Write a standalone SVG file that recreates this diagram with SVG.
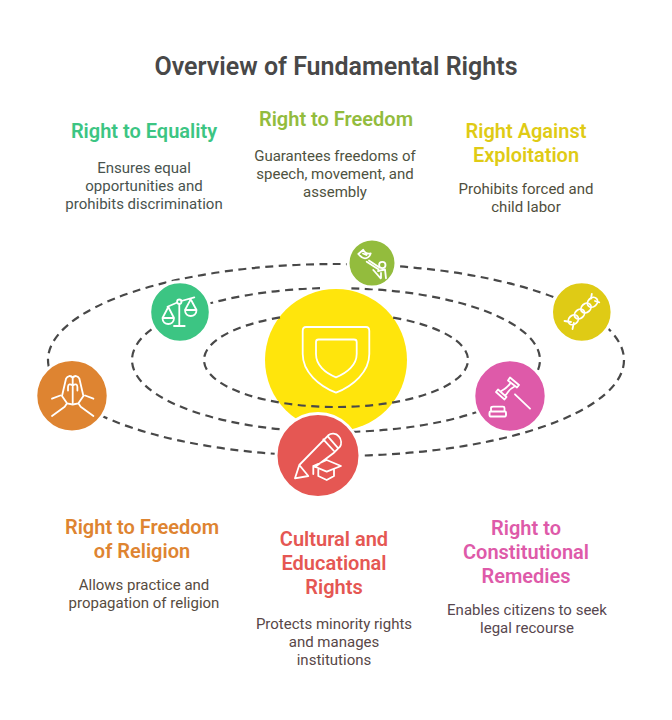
<svg xmlns="http://www.w3.org/2000/svg" width="672" height="720" viewBox="0 0 672 720">
<style>
text{font-family:Roboto,"Liberation Sans",sans-serif;text-anchor:middle}
.t{font-size:25px;font-weight:600;fill:#484848}
.h{font-size:20px;font-weight:600}
.b{font-size:15px}
.c{fill:none;stroke:#484848;stroke-width:2.2;stroke-dasharray:8 5.5}
.n{stroke:#fff;stroke-width:3}
.i{fill:none;stroke:#fff;stroke-width:1.8;stroke-linecap:round;stroke-linejoin:round}
</style>
<rect width="672" height="720" fill="#fff"/>
<text class="t" x="336" y="75">Overview of Fundamental Rights</text>
<g id="center"><circle cx="336" cy="360" r="71" fill="#FFE50C"/>
<path class="i" d="M306 327H366Q369.300 327 369.300 331V354C369.300 372 353 386 336 392.700C319 386 302.700 372 302.700 354V331Q302.700 327 306 327Z"/>
<path class="i" d="M318.500 339.500H354Q356.700 339.500 356.700 342V354C356.700 365 347 373 336 377.300C325 373 316 365 316 354V342Q316 339.500 318.500 339.500Z"/></g>
<g id="connectors">
<ellipse class="c" cx="336" cy="360" rx="288" ry="96"/>
<path class="c" d="M320 288.220A204 72 0 0 0 132 360A204 72 0 0 0 540 360A204 72 0 0 0 350 288.250"/>
<path class="c" d="M280 317.440A132 47 0 0 0 204 360A132 47 0 0 0 468 360A132 47 0 0 0 393 317.600"/>
</g>
<g id="equality"><circle class="n" cx="180" cy="312" r="30.300" fill="#3CC583"/>
<path class="i" d="M179.300 304V326M174 326H184.700M167.500 306.800L177.300 302.500M181.300 301L194.300 297.300M168.300 307L162.500 318H174ZM162.500 318C162.500 326 174 326 174 318M190.700 299.300L185 310H196.500ZM185 310C185 318 196.500 318 196.500 310"/><circle class="i" cx="179.300" cy="301.700" r="2.200"/></g>
<g id="freedom"><circle class="n" cx="372" cy="263" r="24" fill="#93BC3D"/>
<path class="i" d="M358.300 254L363.300 249.800C365 253 368 254 370.700 253.300C370 256 367.500 258.300 365 258.300C362 258.300 360 256 358.300 254ZM363 253.500L366.500 255M366.700 261.700L378.300 269.300M369 260.500L379.500 267.500M373.300 270L380.700 278.300M378 271L385 269.500M385 269.500L386 278.300M381 273V278"/><circle class="i" cx="382.300" cy="265" r="3.200"/></g>
<g id="exploitation"><circle class="n" cx="581.800" cy="312" r="30.300" fill="#DFCB15"/>
<g class="i"><ellipse cx="573.300" cy="319.800" rx="5.500" ry="4.400" transform="rotate(-42 573.300 319.800)"/><ellipse cx="579.500" cy="314" rx="5.500" ry="4.400" transform="rotate(-42 579.500 314)"/><ellipse cx="586" cy="308" rx="5.500" ry="4.400" transform="rotate(-42 586 308)"/><ellipse cx="592.500" cy="302.300" rx="5.500" ry="4.400" transform="rotate(-42 592.500 302.300)"/></g>
<path class="i" d="M564.500 321L571 322M572.500 329L573.800 323M591.800 294L591 298.500M599.300 302.300L595 301"/></g>
<g id="religion"><circle class="n" cx="72" cy="395.800" r="36.200" fill="#DE8431"/>
<path class="i" d="M72.700 378C71 375 67.500 375.500 66 378.700L62 396L67 403.300L72.700 404.500L78.400 403.300L83.400 396L79.400 378.700C78 375.500 74.400 375 72.700 378ZM72.700 378V402.500M68 390.500V387C68 384 70 383.500 72.700 385.500C75.400 383.500 77.400 384 77.400 387V390.500M52 398.700L60.300 395.500M93.400 398.700L85.100 395.500M67 403.300L64.700 406.700L52 416M78.400 403.300L80.700 406.700L93.400 416"/></g>
<g id="remedies"><circle class="n" cx="510" cy="396" r="36.200" fill="#DE5AA9"/>
<path class="i" d="M496 392L498 389.500L506.500 397L504.500 399.500ZM508 380.500L510 377.500L519 385L517 387.500ZM501.300 391C505 389 509 386 510.700 382.500M505.500 395.500C508 391.500 511 388 514.500 386.500M515 394.300L530 408.700M491 408C491 407 492 406.700 493 406.700H503C504 406.700 504.500 407 504.500 408V411.500H491ZM490.500 411.500H505C506.500 411.500 506.500 416.500 505 416.500H490.500C489 416.500 489 411.500 490.500 411.500Z"/></g>
<g id="cultural"><circle class="n" cx="318" cy="455.500" r="42" fill="#E55753"/>
<path class="i" d="M295 478.300L299.300 465L308.300 476ZM299.300 465L328.300 435.300C331 433 336 433 338.800 436.300C341.800 439.500 341.500 444 340 446.700L333.300 453.300L315 467M323.300 439.300L334 451M328 436.700L338.300 448.300M326.700 460L341 466L326.700 471.700L313.300 466ZM313.300 466V474M318.300 469.300V476L326.700 480L334 476V469.300"/></g>
<g id="t-equality"><text class="h" x="144" y="138" fill="#3CC583">Right to Equality</text>
<g fill="#48534E"><text class="b" x="144" y="173">Ensures equal</text><text class="b" x="144" y="191">opportunities and</text><text class="b" x="144" y="209">prohibits discrimination</text></g></g>
<g id="t-freedom"><text class="h" x="336" y="126" fill="#93BC3D">Right to Freedom</text>
<g fill="#4E5240"><text class="b" x="335" y="161">Guarantees freedoms of</text><text class="b" x="335" y="179">speech, movement, and</text><text class="b" x="335" y="197">assembly</text></g></g>
<g id="t-exploitation"><text class="h" x="526" y="138" fill="#DFCB15">Right Against</text><text class="h" x="526" y="162" fill="#DFCB15">Exploitation</text>
<g fill="#504E3C"><text class="b" x="526" y="194">Prohibits forced and</text><text class="b" x="526" y="212">child labor</text></g></g>
<g id="t-religion"><text class="h" x="142" y="534" fill="#DE8431">Right to Freedom</text><text class="h" x="142" y="558" fill="#DE8431">of Religion</text>
<g fill="#574B40"><text class="b" x="144" y="590">Allows practice and</text><text class="b" x="144" y="608">propagation of religion</text></g></g>
<g id="t-cultural"><text class="h" x="334" y="546" fill="#E55753">Cultural and</text><text class="h" x="334" y="570" fill="#E55753">Educational</text><text class="h" x="334" y="594" fill="#E55753">Rights</text>
<g fill="#584747"><text class="b" x="334" y="629">Protects minority rights</text><text class="b" x="334" y="647">and manages</text><text class="b" x="334" y="665">institutions</text></g></g>
<g id="t-remedies"><text class="h" x="526" y="535" fill="#DE5AA9">Right to</text><text class="h" x="526" y="559" fill="#DE5AA9">Constitutional</text><text class="h" x="526" y="583" fill="#DE5AA9">Remedies</text>
<g fill="#57474F"><text class="b" x="527" y="615">Enables citizens to seek</text><text class="b" x="527" y="633">legal recourse</text></g></g>
</svg>
